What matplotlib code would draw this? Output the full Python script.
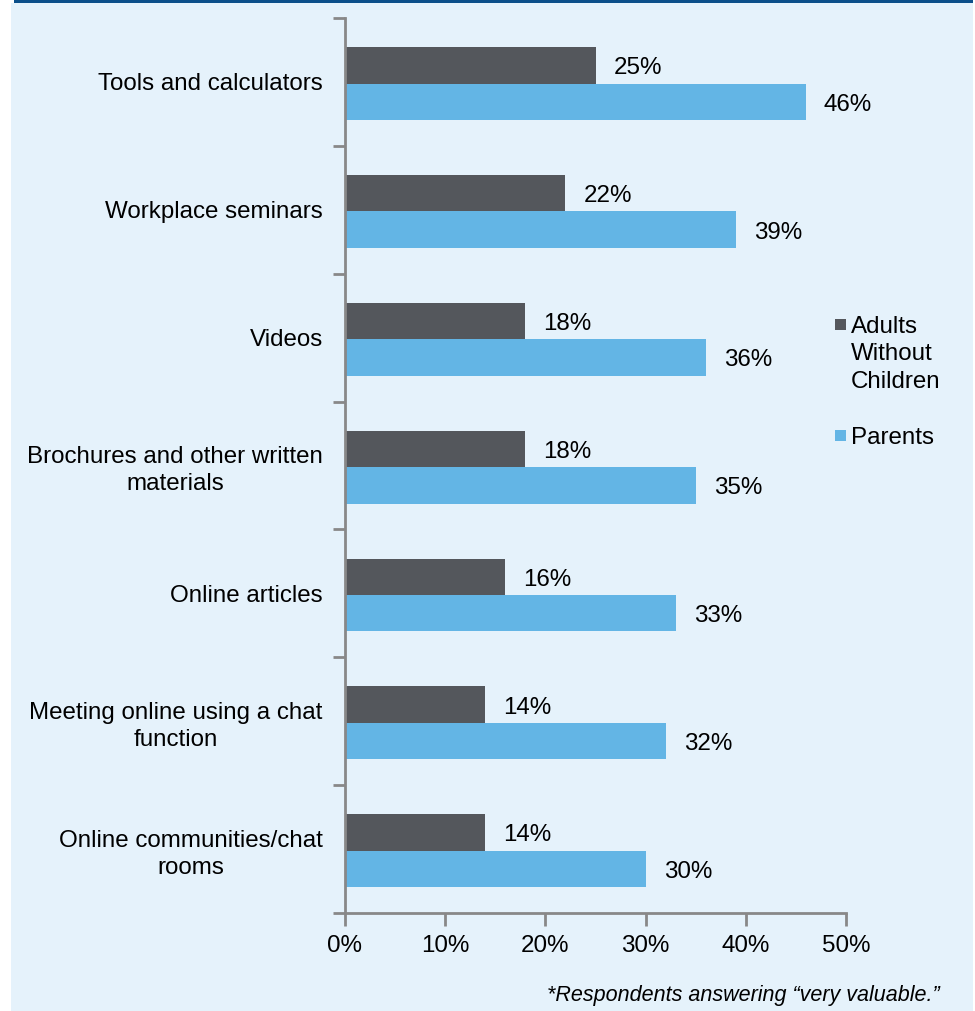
import matplotlib
matplotlib.use("Agg")
import matplotlib.pyplot as plt
from matplotlib.patches import Rectangle
from matplotlib.ticker import FixedLocator

plt.rcParams['font.family'] = ['Liberation Sans', 'DejaVu Sans']

categories = ["Tools and calculators", "Workplace seminars", "Videos",
              "Brochures and other written\nmaterials", "Online articles",
              "Meeting online using a chat\nfunction",
              "Online communities/chat\nrooms"]
adults = [25, 22, 18, 18, 16, 14, 14]
parents = [46, 39, 36, 35, 33, 32, 30]
series_names = ["Adults\nWithout\nChildren", "Parents"]
xticks = [0, 10, 20, 30, 40, 50]

dark = "#54575c"
light = "#63b5e5"
panel = "#e5f2fb"
axis_col = "#888888"
fs = 17.4

fig = plt.figure(figsize=(9.75, 10.11), dpi=100)
fig.patch.set_facecolor("white")
W, H = 975, 1011
fig.add_artist(Rectangle((11 / W, 0), 962 / W, 1008 / H, transform=fig.transFigure,
                         facecolor=panel, edgecolor="none", zorder=0))
fig.add_artist(Rectangle((14 / W, 1008 / H), 959 / W, 3 / H, transform=fig.transFigure,
                         facecolor="#0b4f8a", edgecolor="none", zorder=0))

ax = fig.add_axes([345 / W, 98 / H, 501 / W, 895 / H])
ax.patch.set_visible(False)

n = len(categories)
h = 0.285
centers = [i + 0.5 for i in range(n)]
y_dark = [c - 0.13 for c in centers]
y_light = [c + 0.155 for c in centers]

bars_a = ax.barh(y_dark, adults, height=h, color=dark)
bars_p = ax.barh(y_light, parents, height=h, color=light)

for bars, vals in ((bars_a, adults), (bars_p, parents)):
    for b, v in zip(bars, vals):
        ax.annotate(f"{v}%", (v, b.get_y() + b.get_height() / 2), xytext=(18, -3),
                    textcoords="offset pixels", va="center", ha="left", fontsize=fs)

ax.set_xlim(0, 50)
ax.set_ylim(n, 0)
ax.set_xticks(xticks)
ax.set_xticklabels([f"{t}%" for t in xticks], fontsize=fs)
ax.set_yticks(centers)
ax.set_yticklabels(categories, fontsize=fs, multialignment="center", linespacing=1.32)
ax.yaxis.set_minor_locator(FixedLocator(range(n + 1)))

ax.tick_params(axis="y", which="major", length=0, pad=16)
ax.tick_params(axis="y", which="minor", length=9, width=2, color=axis_col, direction="out")
ax.tick_params(axis="x", length=9, width=2, color=axis_col, direction="out", pad=7)

for s in ("top", "right"):
    ax.spines[s].set_visible(False)
for s in ("left", "bottom"):
    ax.spines[s].set_color(axis_col)
    ax.spines[s].set_linewidth(2)

# legend: square marker next to the first line of each entry
for name, col, ytop in zip(series_names, [dark, light], [325, 436]):
    fig.add_artist(Rectangle((835 / W, 1 - (ytop + 5) / H), 11 / W, 11 / H,
                             transform=fig.transFigure, facecolor=col, edgecolor="none"))
    fig.text(851 / W, 1 - (ytop - 9) / H, name, ha="left", va="top",
             fontsize=fs, linespacing=1.32)

fig.text(940 / W, 1 - 995 / H, "*Respondents answering \u201cvery valuable.\u201d",
         ha="right", va="center", fontsize=15.5, style="italic")

fig.savefig("out.png", dpi=100)
